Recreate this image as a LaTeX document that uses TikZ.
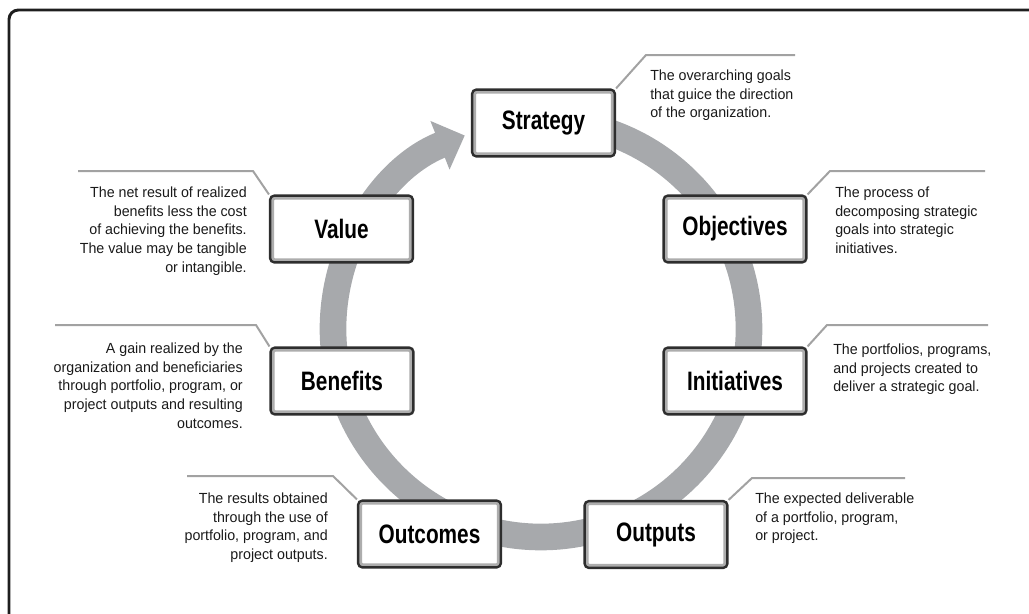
\documentclass[tikz,border=0pt]{standalone}
\usepackage{fontspec}
\setmainfont{Liberation Sans}
\newfontfamily\descfont{Liberation Sans}[FakeStretch=0.97]
\newfontfamily\titlefont{Liberation Sans}[FakeStretch=0.78]
\usetikzlibrary{arrows.meta}

\definecolor{ringgray}{HTML}{A7A9AC}
\definecolor{bandgray}{HTML}{ADADAD}
\definecolor{edgedark}{HTML}{2E2E2E}
\definecolor{leadgray}{HTML}{A2A2A2}
\definecolor{framedark}{HTML}{1E1E1E}
\definecolor{textdark}{HTML}{1A1A1A}

\begin{document}
\begin{tikzpicture}[x=0.75pt,y=0.75pt,
  stage/.style={rectangle, rounded corners=3pt, minimum width=107pt, minimum height=50pt,
    fill=white, draw=edgedark, line width=1.8pt, text=black,
    font=\titlefont\bfseries\fontsize{20}{24}\selectfont,
    path picture={\draw[bandgray, line width=6pt]
      (path picture bounding box.south west) rectangle (path picture bounding box.north east);}},
  desc/.style={inner sep=0pt, text=textdark, font=\descfont\fontsize{11}{14}\selectfont},
  leader/.style={draw=leadgray, line width=1.5pt},
]
\useasboundingbox (0,0) rectangle (1029,-614);

% outer frame
\draw[framedark, line width=2.2pt, rounded corners=7pt] (9,-614) -- (9,-10) -- (1029,-10);

% the cycle ring with its arrow head
\coordinate (hub) at (541,-329);
\draw[ringgray, line width=20pt, -{Triangle[length=20pt, width=38pt]}]
  (hub) ++(92:208) arc[start angle=92, end angle=-248.5, radius=208];

% stages
\node[stage] (strategy)    at (543.5,-123) {Strategy};
\node[stage] (objectives)  at (735,-229)   {Objectives};
\node[stage] (initiatives) at (735,-381)   {Initiatives};
\node[stage] (outputs)     at (656,-534.5) {Outputs};
\node[stage] (outcomes)    at (429.5,-534) {Outcomes};
\node[stage] (benefits)    at (342,-381)   {Benefits};
\node[stage] (value)       at (341.5,-229) {Value};

% callout leaders
\coordinate (sbend) at (646,-55);  \coordinate (send) at (795,-55);
\coordinate (obend) at (830,-171); \coordinate (oend) at (985,-171);
\coordinate (ibend) at (827,-325); \coordinate (iend) at (988,-325);
\coordinate (pbend) at (752,-478); \coordinate (pend) at (905,-478);
\coordinate (cbend) at (333,-476); \coordinate (cend) at (187,-476);
\coordinate (bbend) at (256,-325); \coordinate (bend) at (55,-325);
\coordinate (vbend) at (253,-171); \coordinate (vend) at (78,-171);

\draw[leader] (strategy.north east) -- (sbend) -- (send);
\draw[leader] (objectives.north east) -- (obend) -- (oend);
\draw[leader] (initiatives.north east) -- (ibend) -- (iend);
\draw[leader] (outputs.north east) -- (pbend) -- (pend);
\draw[leader] (outcomes.north west) -- (cbend) -- (cend);
\draw[leader] (benefits.north west) -- (bbend) -- (bend);
\draw[leader] (value.north west) -- (vbend) -- (vend);

% descriptions
\node[desc, anchor=north west, align=left] (dstrategy) at (650,-69.5)
  {The overarching goals\\that guice the direction\\of the organization.};
\node[desc, anchor=north west, align=left] (dobjectives) at (835,-186.5)
  {The process of\\decomposing strategic\\goals into strategic\\initiatives.};
\node[desc, anchor=north west, align=left] (dinitiatives) at (833,-343.5)
  {The portfolios, programs,\\and projects created to\\deliver a strategic goal.};
\node[desc, anchor=north west, align=left] (doutputs) at (755,-492.5)
  {The expected deliverable\\of a portfolio, program,\\or project.};
\node[desc, anchor=north east, align=right] (dvalue) at (247,-186.5)
  {The net result of realized\\benefits less the cost\\of achieving the benefits.\\The value may be tangible\\or intangible.};
\node[desc, anchor=north east, align=right] (dbenefits) at (243,-342.5)
  {A gain realized by the\\organization and beneficiaries\\through portfolio, program, or\\project outputs and resulting\\outcomes.};
\node[desc, anchor=north east, align=right] (doutcomes) at (328,-492.5)
  {The results obtained\\through the use of\\portfolio, program, and\\project outputs.};
\end{tikzpicture}
\end{document}
